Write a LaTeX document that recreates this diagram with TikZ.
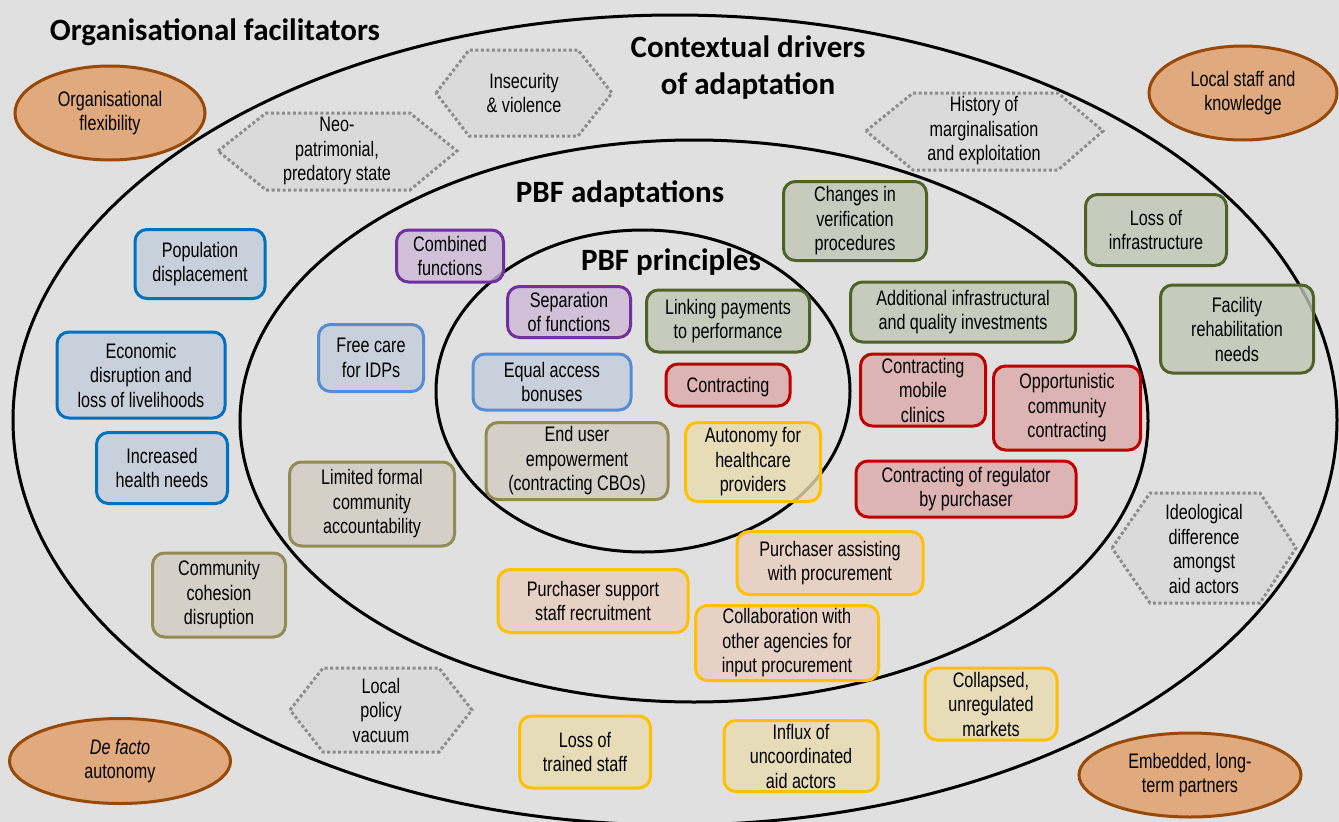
\documentclass[tikz,border=0pt]{standalone}
\usepackage{fontspec}
\setmainfont{Liberation Sans}[FakeStretch=0.77]
\newfontfamily\titlefont{Carlito}
\usetikzlibrary{shapes.geometric}

\definecolor{backgr}{RGB}{224,224,224}
\definecolor{hexline}{RGB}{140,140,140}
\definecolor{hexfill}{RGB}{218,218,218}
\definecolor{orangeline}{RGB}{152,72,7}
\definecolor{orangefill}{RGB}{225,170,126}
\definecolor{blueline}{RGB}{0,112,192}
\definecolor{paleblueline}{RGB}{85,142,213}
\definecolor{bluefill}{RGB}{194,204,219}
\definecolor{purpleline}{RGB}{112,48,160}
\definecolor{purplefill}{RGB}{204,184,214}
\definecolor{greenline}{RGB}{79,98,40}
\definecolor{greenfill}{RGB}{192,198,182}
\definecolor{redline}{RGB}{192,0,0}
\definecolor{redfill}{RGB}{219,169,169}
\definecolor{khakiline}{RGB}{148,138,84}
\definecolor{khakifill}{RGB}{209,204,194}
\definecolor{goldline}{RGB}{255,192,0}
\definecolor{yellowfill}{RGB}{232,219,175}
\definecolor{peachfill}{RGB}{232,206,189}

\tikzstyle{every node}=[align=center]
\tikzstyle{title}=[font=\titlefont\bfseries\fontsize{31}{37}\selectfont]
\tikzstyle{txt}=[execute at begin node={\rule{0pt}{19.5pt}}]
\tikzstyle{box}=[txt, draw, rounded corners=12pt, inner sep=2pt, fill opacity=0.8, text opacity=1]
\tikzstyle{bluebox}=[box, draw=blueline, fill=bluefill]
\tikzstyle{palebox}=[box, draw=paleblueline, fill=bluefill]
\tikzstyle{purplebox}=[box, draw=purpleline, fill=purplefill]
\tikzstyle{greenbox}=[box, draw=greenline, fill=greenfill]
\tikzstyle{redbox}=[box, draw=redline, fill=redfill]
\tikzstyle{khakibox}=[box, draw=khakiline, fill=khakifill]
\tikzstyle{yellowbox}=[box, draw=goldline, fill=yellowfill]
\tikzstyle{peachbox}=[box, draw=goldline, fill=peachfill]
\tikzstyle{hexa}=[draw=hexline, fill=hexfill, dash pattern=on 3pt off 2.5pt]
\tikzstyle{facil}=[txt, ellipse, draw=orangeline, fill=orangefill]

\begin{document}
\begin{tikzpicture}[x=1pt, y=-1pt, line width=3pt, font=\fontsize{21}{24.5}\selectfont]
\useasboundingbox (0,0) rectangle (1339,822);
\fill[backgr] (0,0) rectangle (1339,822);
% Rings
    \draw (675,420) ellipse [x radius=662, y radius=405];
    \draw (694,421) ellipse [x radius=454, y radius=281];
    \draw (643,391) ellipse [x radius=207, y radius=161];
% Titles
    \node[title, anchor=base west] (orgtitle) at (45,40) {Organisational facilitators};
    \node[title] (drivtitle) at (748,68) {Contextual drivers\\of adaptation};
    \node[title, anchor=base] (adapttitle) at (620,202) {PBF adaptations};
    \node[title, anchor=base] (princtitle) at (671,270) {PBF principles};
% Organisational facilitators
    \node[facil, minimum width=190pt, minimum height=94pt] (orgflex) at (110,113) {Organisational\\flexibility};
    \node[facil, minimum width=188pt, minimum height=94pt] (localstaff) at (1243,93) {Local staff and\\knowledge};
    \node[facil, minimum width=221pt, minimum height=85pt] (defacto) at (120,761) {\textit{De facto}\\autonomy};
    \node[facil, minimum width=222pt, minimum height=84pt] (embedded) at (1190,775) {Embedded, long-\\term partners};
% Contextual drivers
    \draw[hexa] (436,93) -- (469,50) -- (578,50) -- (612,93) -- (578,136) -- (469,136) -- cycle;
    \node[txt] (insecurity) at (524,93) {Insecurity\\\& violence};
    \draw[hexa] (218,151) -- (266,113) -- (410,113) -- (457,151) -- (410,190) -- (266,190) -- cycle;
    \node[txt] (neopat) at (337,151) {Neo-\\patrimonial,\\predatory state};
    \draw[hexa] (866,131) -- (913,93) -- (1058,93) -- (1103,131) -- (1058,170) -- (913,170) -- cycle;
    \node[txt] (history) at (984,131) {History of\\marginalisation\\and exploitation};
    \draw[hexa] (1112,548) -- (1150,493) -- (1260,493) -- (1296,548) -- (1260,603) -- (1150,603) -- cycle;
    \node[txt] (ideology) at (1204,549) {Ideological\\difference\\amongst\\aid actors};
    \draw[hexa] (290,710) -- (323,668) -- (439,668) -- (472,710) -- (439,752) -- (323,752) -- cycle;
    \node[txt] (policyvac) at (381,710) {Local\\policy\\vacuum};
    \node[bluebox, minimum width=130pt, minimum height=69pt] (popdisp) at (200,264) {Population\\displacement};
    \node[bluebox, minimum width=168pt, minimum height=86pt] (econ) at (141,375) {Economic\\disruption and\\loss of livelihoods};
    \node[bluebox, minimum width=131pt, minimum height=71pt] (healthneeds) at (162,468) {Increased\\health needs};
    \node[khakibox, minimum width=133pt, minimum height=84pt] (cohesion) at (219,595) {Community\\cohesion\\disruption};
    \node[greenbox, minimum width=141pt, minimum height=71pt] (lossinfra) at (1156,230) {Loss of\\infrastructure};
    \node[greenbox, minimum width=153pt, minimum height=88pt] (rehab) at (1237,329) {Facility\\rehabilitation\\needs};
    \node[yellowbox, minimum width=131pt, minimum height=72pt] (trained) at (585,752) {Loss of\\trained staff};
    \node[yellowbox, minimum width=154pt, minimum height=71pt] (influx) at (801,756) {Influx of\\uncoordinated\\aid actors};
    \node[yellowbox, minimum width=132pt, minimum height=72pt] (markets) at (991,704) {Collapsed,\\unregulated\\markets};
% PBF adaptations
    \node[palebox, minimum width=105pt, minimum height=67pt] (freecare) at (371,358) {Free care\\for IDPs};
    \node[purplebox, minimum width=107pt, minimum height=52pt] (combined) at (450,256) {Combined\\functions};
    \node[khakibox, minimum width=165pt, minimum height=84pt] (limited) at (372,504) {Limited formal\\community\\accountability};
    \node[greenbox, minimum width=143pt, minimum height=79pt] (verif) at (855,221) {Changes in\\verification\\procedures};
    \node[greenbox, minimum width=225pt, minimum height=60pt] (addinfra) at (963,312) {Additional infrastructural\\and quality investments};
    \node[redbox, minimum width=125pt, minimum height=72pt] (mobile) at (923,390) {Contracting\\mobile\\clinics};
    \node[redbox, minimum width=147pt, minimum height=84pt] (opportun) at (1067,408) {Opportunistic\\community\\contracting};
    \node[redbox, minimum width=220pt, minimum height=56pt] (regulator) at (966,489) {Contracting of regulator\\by purchaser};
    \node[peachbox, minimum width=186pt, minimum height=63pt] (assisting) at (830,563) {Purchaser assisting\\with procurement};
    \node[peachbox, minimum width=190pt, minimum height=63pt] (support) at (593,601) {Purchaser support\\staff recruitment};
    \node[peachbox, minimum width=183pt, minimum height=75pt] (collab) at (787,643) {Collaboration with\\other agencies for\\input procurement};
% PBF principles
    \node[purplebox, minimum width=123pt, minimum height=51pt] (separation) at (569,312) {Separation\\of functions};
    \node[greenbox, minimum width=163pt, minimum height=62pt] (linking) at (728,321) {Linking payments\\to performance};
    \node[palebox, minimum width=158pt, minimum height=56pt] (equal) at (552,382) {Equal access\\bonuses};
    \node[redbox, minimum width=124pt, minimum height=42pt] (contracting) at (728,385) {Contracting};
    \node[khakibox, minimum width=182pt, minimum height=77pt] (enduser) at (577,461) {End user\\empowerment\\(contracting CBOs)};
    \node[yellowbox, minimum width=135pt, minimum height=79pt] (autonomy) at (753,462) {Autonomy for\\healthcare\\providers};
\end{tikzpicture}
\end{document}
